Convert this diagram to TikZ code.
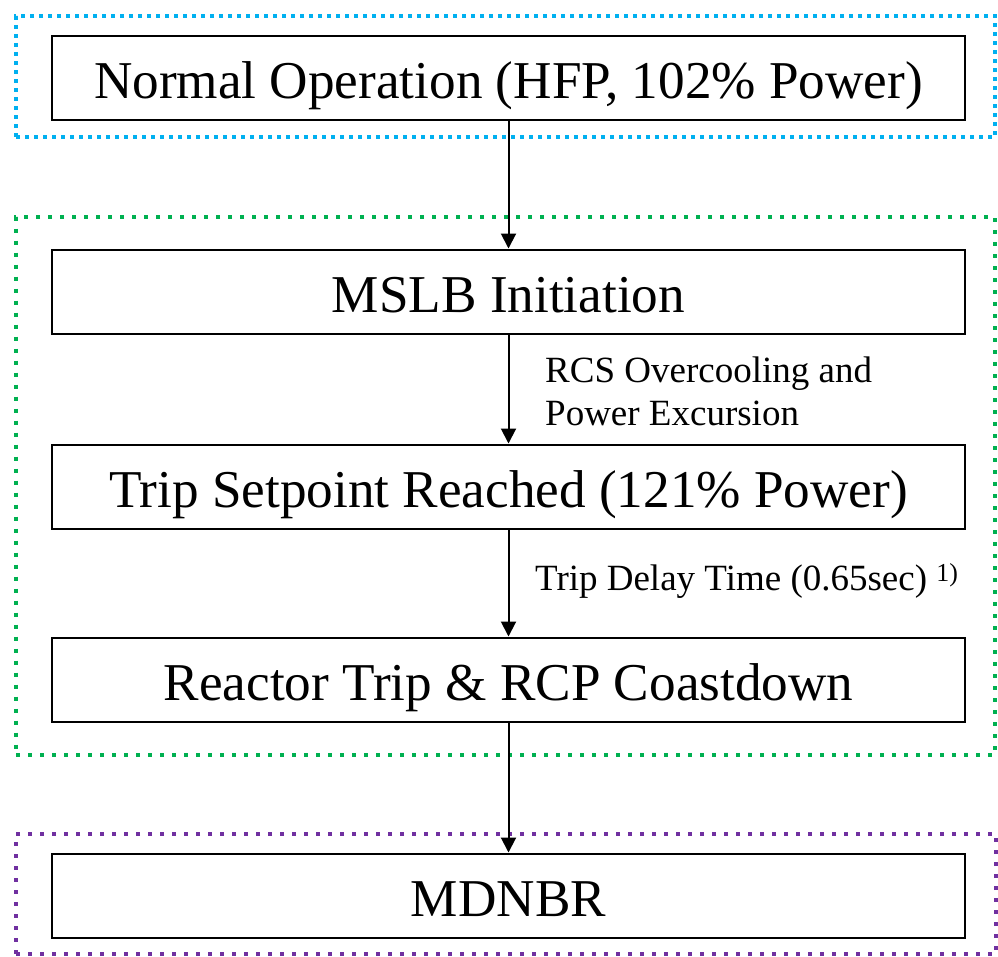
\documentclass[tikz,border=0pt]{standalone}
\usepackage{fontspec}
\setmainfont{Liberation Serif}
\usetikzlibrary{arrows.meta}
\definecolor{cblue}{RGB}{0,176,240}
\definecolor{cgreen}{RGB}{0,176,80}
\definecolor{cpurple}{RGB}{112,48,160}
\tikzset{
  stepbox/.style={draw=black, line width=2pt, fill=white, inner sep=0pt, minimum width=913pt, minimum height=84pt, text height=41pt, text depth=0pt, font=\fontsize{53.2}{60}\selectfont},
  grp/.style={line width=4pt, dash pattern=on 4pt off 8pt, inner sep=0pt},
  arr/.style={line width=2pt, -{Triangle[width=15pt,length=15pt]}},
  lbl/.style={anchor=west, align=left, inner sep=0pt, font=\fontsize{37}{43}\selectfont},
}
\begin{document}
\begin{tikzpicture}[x=1pt,y=-1pt]
\useasboundingbox (0,0) rectangle (998,956);
\node[grp, draw=cblue, dash pattern=on 4pt off 5pt, minimum width=979pt, minimum height=121pt] (g1) at (505.5,76.5) {};
\node[grp, draw=cgreen, minimum width=979pt, minimum height=538pt] (g2) at (505.5,485.5) {};
\node[grp, draw=cpurple, minimum width=980pt, minimum height=120pt] (g3) at (506,894) {};
\node[stepbox] (n1) at (508.5,78) {Normal Operation (HFP, 102\% Power)};
\node[stepbox] (n2) at (508.5,291.5) {MSLB Initiation};
\node[stepbox] (n3) at (508.5,486.5) {Trip Setpoint Reached (121\% Power)};
\node[stepbox] (n4) at (508.5,679.5) {Reactor Trip \& RCP Coastdown};
\node[stepbox] (n5) at (508.5,895.5) {MDNBR};
\draw[arr] (n1.south) -- (n2.north);
\draw[arr] (n2.south) -- (n3.north);
\draw[arr] (n3.south) -- (n4.north);
\draw[arr] (n4.south) -- (n5.north);
\node[lbl] (l1) at (545,391) {RCS Overcooling and\\Power Excursion};
\node[lbl] (l2) at (535,581) {Trip Delay Time (0.65sec) \textsuperscript{1)}};
\end{tikzpicture}
\end{document}
